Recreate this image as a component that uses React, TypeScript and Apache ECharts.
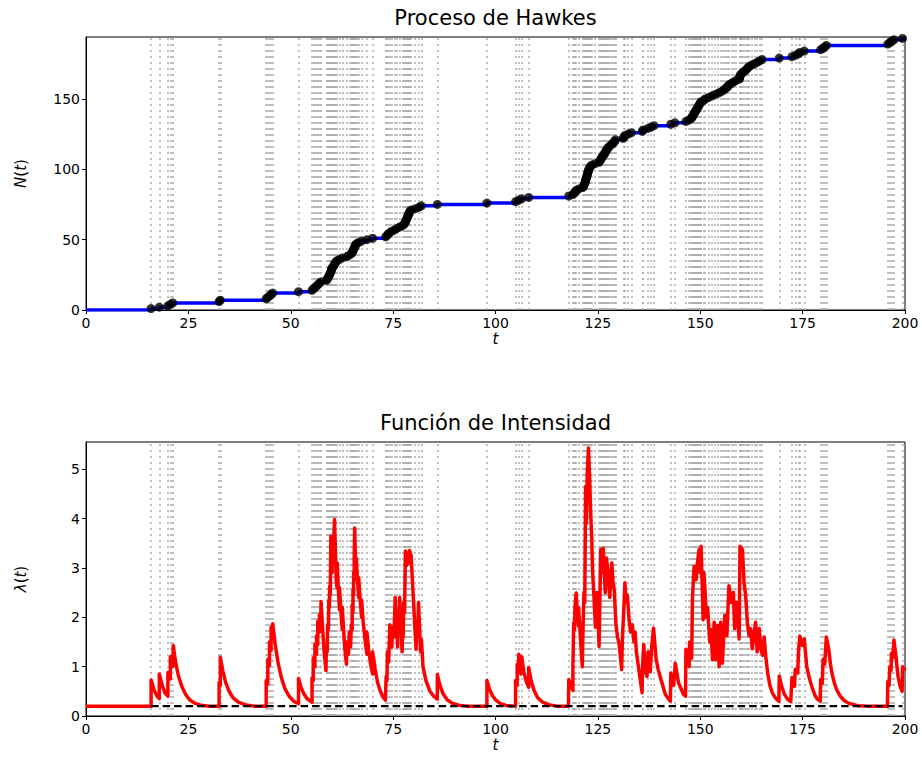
import React, { useEffect, useRef } from "react";
import * as echarts from "echarts";

const EVENT_TIMES: number[] = [
  15.9, 17.9, 20.0, 20.6, 21.2,
  32.5, 32.8,
  44.0, 44.4, 44.8, 45.2, 45.6,
  51.9,
  55.2, 55.5, 55.9, 56.3, 56.6, 57.0, 57.4,
  58.7, 58.9,
  59.1, 59.3, 59.45, 59.6, 59.75, 59.9, 60.0, 60.1,
  60.4, 60.6, 60.75, 61.0, 61.3,
  61.9, 62.6,
  63.7, 64.3, 64.8,
  65.0, 65.2, 65.35, 65.5, 65.65, 65.8, 66.0,
  66.6, 67.3,
  68.6, 70.0,
  73.2, 73.5, 73.8, 74.2,
  74.7, 75.4, 75.9,
  76.6, 77.3,
  77.7, 77.9, 78.05, 78.2, 78.35, 78.5, 78.65, 78.8, 78.95, 79.1, 79.35,
  80.4, 81.3, 81.9,
  85.8,
  97.9,
  104.9, 105.6, 106.4, 108.1,
  117.9, 118.9, 119.2, 119.45, 119.7,
  120.3, 121.3,
  121.5, 121.65, 121.8, 121.9, 122.0, 122.1, 122.2, 122.3, 122.4, 122.5, 122.6, 122.7, 122.8, 123.0,
  123.2, 123.5,
  124.3,
  125.3, 125.5, 125.7, 125.9, 126.1,
  126.4, 126.6, 126.8, 127.0, 127.2, 127.4,
  127.7, 128.1, 128.5, 128.9,
  129.1, 129.3,
  131.2, 131.4, 131.6,
  132.4, 133.2,
  135.85, 136.05, 137.2, 138.0, 138.7,
  142.8, 143.8,
  146.5, 147.2,
  147.8, 148.0, 148.2, 148.4, 148.6, 148.8, 149.0,
  149.2, 149.4, 149.6, 149.8, 150.0, 150.2,
  150.9, 151.2,
  152.0, 152.8, 153.5,
  154.3, 155.0,
  155.6, 156.0, 156.4, 156.8, 157.0,
  157.6, 158.1, 158.7,
  159.55, 159.62, 159.7, 159.78,
  160.1, 160.5,
  160.9, 161.3, 161.6, 161.9,
  162.5, 163.2, 163.9,
  164.5, 165.1,
  169.3,
  172.4, 173.2, 174.0, 174.3, 175.4,
  179.4, 180.0, 180.4, 180.8,
  195.8, 196.3, 196.7, 197.3,
  199.4,
];

// Intensity curve vertices [t, lambda]
const LAMBDA_POINTS: [number, number][] = [
  [0, 0.2], [15.9, 0.2], [15.9, 0.73], [16.6, 0.53], [17.3, 0.41], [17.9, 0.35], [17.9, 0.85],
  [18.6, 0.62], [19.3, 0.47], [20.0, 0.4], [20.0, 0.88], [20.6, 0.75], [20.6, 1.2], [21.2, 1.0],
  [21.3, 1.43], [21.9, 1.08], [22.6, 0.8], [23.4, 0.6], [24.3, 0.44], [25.3, 0.33], [26.5, 0.26],
  [28, 0.22], [30, 0.2], [32.5, 0.2], [32.5, 0.68], [32.8, 0.62], [32.8, 1.19], [33.4, 0.92],
  [34.1, 0.68], [35, 0.49], [36, 0.36], [37.2, 0.28], [38.8, 0.23], [41, 0.2], [44, 0.2],
  [44, 0.72], [44.4, 0.65], [44.4, 1.15], [44.8, 1.02], [44.8, 1.5], [45.2, 1.33], [45.2, 1.8],
  [45.6, 1.6], [45.6, 1.87], [46.2, 1.45], [46.9, 1.08], [47.7, 0.78], [48.6, 0.55], [49.6, 0.4],
  [50.7, 0.3], [51.9, 0.25], [51.9, 0.76], [52.5, 0.58], [53.2, 0.45], [54.0, 0.35], [55.0, 0.29],
  [55.2, 0.28], [55.2, 0.77], [55.5, 0.72], [55.5, 1.18], [55.9, 1.0], [55.9, 1.45], [56.3, 1.25],
  [56.3, 1.62], [56.6, 1.45], [56.6, 1.92], [57.0, 1.7], [57.0, 2.05], [57.3, 1.85], [57.4, 2.32],
  [57.8, 1.75], [58.2, 1.25], [58.6, 0.92], [58.7, 1.4], [58.9, 1.3], [59.0, 1.85], [59.2, 1.75],
  [59.3, 2.35], [59.45, 2.2], [59.5, 2.63], [59.65, 2.45], [59.8, 3.64], [59.95, 3.0], [60.1, 2.9],
  [60.1, 3.45], [60.4, 3.1], [60.5, 3.6], [60.7, 3.98], [60.9, 3.35], [61.1, 2.76], [61.3, 2.6],
  [61.35, 3.1], [61.6, 2.6], [61.9, 2.15], [61.9, 2.6], [62.3, 2.05], [62.6, 1.75], [62.6, 2.2],
  [63.0, 1.6], [63.3, 1.28], [63.6, 1.05], [63.7, 1.5], [64.1, 1.25], [64.3, 1.7], [64.6, 1.4],
  [64.8, 1.85], [65.0, 1.75], [65.0, 2.25], [65.2, 2.1], [65.2, 2.55], [65.35, 2.45], [65.35, 2.9],
  [65.5, 2.75], [65.5, 3.2], [65.6, 3.81], [65.8, 3.2], [66.0, 2.8], [66.0, 3.2], [66.3, 2.75],
  [66.6, 2.4], [66.6, 2.8], [67.0, 2.3], [67.3, 2.0], [67.3, 2.35], [67.7, 1.9], [68.2, 1.5],
  [68.6, 1.25], [68.6, 1.7], [69.0, 1.35], [69.5, 1.05], [70.0, 0.85], [70.0, 1.3], [70.6, 0.95],
  [71.2, 0.68], [71.8, 0.52], [72.4, 0.4], [73.1, 0.32],
  [73.2, 0.32], [73.3, 0.8], [73.5, 0.72], [73.6, 1.3], [73.9, 1.1], [74.2, 1.85], [74.7, 1.4],
  [74.8, 1.8], [75.2, 1.6], [75.5, 2.4], [76.1, 1.4], [76.2, 1.85], [76.4, 1.7], [76.6, 2.4],
  [77.2, 1.3], [77.3, 1.75], [77.45, 1.6], [77.6, 2.3], [77.8, 2.1], [78.0, 3.34], [78.3, 3.05],
  [78.5, 3.3], [78.8, 3.1], [79.0, 3.35], [79.4, 3.25], [79.7, 2.75], [80.0, 2.3], [80.3, 1.8],
  [80.6, 1.35], [80.8, 1.9], [81.0, 1.7], [81.2, 2.3], [81.7, 1.3], [81.9, 1.55], [82.3, 1.0],
  [83.0, 0.72], [84.0, 0.5], [84.9, 0.4], [85.8, 0.34], [85.8, 0.84], [86.4, 0.63], [87.2, 0.45],
  [88.2, 0.33], [89.4, 0.26], [91, 0.22], [93, 0.2],
  [97.9, 0.2], [97.9, 0.72], [98.5, 0.55], [99.2, 0.42], [100.1, 0.32], [101.2, 0.25], [102.8, 0.21],
  [104.9, 0.2], [104.9, 0.72], [105.3, 0.62], [105.3, 1.05], [105.6, 0.95], [105.7, 1.25],
  [106.0, 1.05], [106.2, 0.85], [106.4, 1.2], [106.9, 0.9], [107.5, 0.7], [108.1, 0.58],
  [108.1, 0.98], [108.7, 0.72], [109.4, 0.52], [110.3, 0.37], [111.5, 0.28], [113, 0.23],
  [115, 0.2], [117.8, 0.2],
  [117.9, 0.74], [118.5, 0.6], [118.9, 0.52], [118.9, 1.0], [119.1, 1.89], [119.3, 1.75],
  [119.4, 2.2], [119.7, 2.49], [120.0, 2.05], [120.3, 1.82], [120.3, 2.2], [120.8, 1.5],
  [121.2, 1.0], [121.3, 1.5], [121.6, 2.5], [121.8, 2.3], [122.0, 4.65], [122.2, 3.9],
  [122.4, 4.9], [122.7, 5.43], [123.0, 4.8], [123.2, 4.2], [123.5, 3.6], [123.7, 2.95],
  [124.0, 2.49], [124.4, 1.8], [124.6, 2.1], [124.8, 2.5], [125.3, 1.41], [125.5, 2.4],
  [125.7, 3.37], [126.0, 2.9], [126.3, 3.4], [126.8, 2.5], [127.1, 3.2], [127.6, 2.8],
  [127.9, 2.4], [128.1, 2.75], [128.4, 3.1], [128.7, 2.7], [129.0, 2.55], [129.4, 1.87],
  [129.8, 1.6], [130.2, 1.45], [130.8, 0.94], [131.0, 1.6], [131.3, 2.1], [131.6, 2.7],
  [131.9, 2.3], [132.2, 2.45], [132.6, 1.97], [133.0, 1.7], [133.4, 1.85], [133.8, 1.5],
  [134.1, 1.7], [134.4, 1.3], [135.0, 0.94], [135.8, 0.47], [135.9, 0.98], [136.2, 1.45],
  [136.6, 0.9], [137.0, 0.8], [137.3, 1.3], [137.8, 0.9], [138.0, 1.2], [138.2, 1.45],
  [138.6, 1.78], [139.2, 1.17], [139.7, 0.95], [140.3, 0.77], [141.5, 0.43], [142.7, 0.3],
  [142.8, 0.87], [143.5, 0.62], [143.9, 1.07], [144.7, 0.67], [145.9, 0.44], [146.4, 0.4],
  [146.5, 1.35], [146.9, 1.15], [147.3, 1.0], [147.4, 1.5], [147.9, 1.17], [148.1, 2.4],
  [148.5, 3.03], [149.0, 2.76], [149.3, 3.1], [149.7, 3.37], [150.0, 2.9], [150.2, 3.44],
  [150.5, 2.6], [150.7, 1.95], [150.9, 2.9], [151.2, 2.5], [151.5, 2.0], [151.8, 2.2],
  [152.3, 1.5], [152.6, 1.75], [153.0, 1.14], [153.4, 1.9], [153.8, 1.14], [154.2, 1.84],
  [154.6, 1.0], [155.0, 1.9], [155.4, 1.07], [156.0, 2.04], [156.5, 1.63], [157.0, 2.64],
  [157.6, 2.3], [158.1, 2.5], [158.4, 1.77], [158.9, 2.3], [159.5, 1.56], [159.7, 3.44],
  [160.3, 3.37], [160.7, 2.7], [161.1, 2.43], [161.5, 1.9], [161.9, 1.63], [162.3, 1.77],
  [162.7, 1.36], [163.1, 1.63], [163.5, 1.9], [163.9, 1.3], [164.4, 1.77], [164.8, 1.36],
  [165.2, 1.23], [165.6, 1.6], [166.0, 1.2], [166.5, 0.85], [167.0, 0.62], [167.6, 0.47],
  [168.3, 0.37], [169.2, 0.3], [169.3, 0.81], [169.8, 0.62], [170.5, 0.45], [171.3, 0.34],
  [172.1, 0.29], [172.4, 0.78], [173.0, 0.6], [173.2, 0.94], [173.8, 0.87], [174.0, 1.3],
  [174.3, 1.62], [174.9, 1.43], [175.4, 1.56], [176.0, 1.0], [176.6, 0.78], [177.3, 0.58],
  [178.0, 0.42], [178.5, 0.35], [179.3, 0.3], [179.4, 0.74], [179.8, 0.66], [180.0, 1.15],
  [180.4, 1.05], [180.8, 1.6], [181.4, 1.34], [181.8, 1.05], [182.2, 0.85], [182.8, 0.65],
  [183.4, 0.52], [184.2, 0.4], [185.2, 0.31], [186.5, 0.25], [188.5, 0.21], [191, 0.2],
  [195.7, 0.2], [195.8, 0.7], [196.1, 0.62], [196.3, 1.0], [196.6, 0.92], [196.7, 1.27],
  [197.0, 1.18], [197.3, 1.54], [197.8, 1.2], [198.3, 0.8], [198.8, 0.6], [199.3, 0.5],
  [199.4, 1.0], [200, 0.92],
];

const MU = 0.2;
const T_END = 200;
const N_MAX = 194;
const LAMBDA_MAX = 5.55;
const X_TICK_STEP = 25;
const N_TICKS = [0, 50, 100, 150];
const LAMBDA_TICKS = [0, 1, 2, 3, 4, 5];

const FONT = "DejaVu Sans";

export default function App() {
  const ref = useRef<HTMLDivElement>(null);

  useEffect(() => {
    const chart = echarts.init(ref.current!, null, { renderer: "svg" });

    const stepData = [[0, 0], ...EVENT_TIMES.map((t, i) => [t, i + 1]), [T_END, EVENT_TIMES.length]];
    const dots = EVENT_TIMES.map((t, i) => [t, i + 1]);
    const vlines = EVENT_TIMES.map((t) => ({ xAxis: t }));
    const baseline = [[EVENT_TIMES[0], MU], [EVENT_TIMES[EVENT_TIMES.length - 1], MU]];

    const vlineMark = {
      silent: true,
      z: 1,
      symbol: ["none", "none"],
      label: { show: false },
      emphasis: { disabled: true },
      lineStyle: { color: "#acacac", width: 1.5, type: [2, 4] },
      data: vlines,
      animation: false,
    };

    const xAxisBase = (gridIndex: number) => ({
      type: "value",
      gridIndex,
      min: 0,
      max: T_END,
      interval: X_TICK_STEP,
      name: "t",
      nameLocation: "middle",
      nameGap: 21,
      nameMoveOverlap: false,
      nameTextStyle: { fontFamily: FONT, fontSize: 15, fontStyle: "italic", color: "#000" },
      axisLine: { show: true, lineStyle: { color: "#000", width: 1 } },
      axisTick: { show: true, inside: false, length: 4, lineStyle: { color: "#000" } },
      axisLabel: { fontFamily: FONT, fontSize: 14, color: "#000", margin: 6 },
      splitLine: { show: false },
    });

    const nameRich = {
      i: { fontFamily: FONT, fontSize: 15, fontStyle: "italic", color: "#000" },
      n: { fontFamily: FONT, fontSize: 15, color: "#000" },
    };

    chart.setOption({
      animation: false,
      backgroundColor: "#fff",
      graphic: [
        {
          type: "text",
          x: 495.5,
          y: 18,
          style: { text: "Proceso de Hawkes", font: `21px "${FONT}"`, fill: "#000", textAlign: "center", textVerticalAlign: "middle" },
        },
        {
          type: "text",
          x: 495.5,
          y: 423,
          style: { text: "Función de Intensidad", font: `21px "${FONT}"`, fill: "#000", textAlign: "center", textVerticalAlign: "middle" },
        },
      ],
      grid: [
        { left: 86, top: 37, width: 819, height: 273, show: true, borderColor: "#000", borderWidth: 1, backgroundColor: "transparent" },
        { left: 86, top: 442, width: 819, height: 274, show: true, borderColor: "#000", borderWidth: 1, backgroundColor: "transparent" },
      ],
      xAxis: [xAxisBase(0), xAxisBase(1)],
      yAxis: [
        {
          type: "value",
          gridIndex: 0,
          min: 0,
          max: N_MAX,
          name: "{i|N}{n|(}{i|t}{n|)}",
          nameLocation: "middle",
          nameGap: 58,
          nameMoveOverlap: false,
          nameRotate: 90,
          nameTextStyle: { rich: nameRich },
          axisLine: { show: true, lineStyle: { color: "#000", width: 1 } },
          axisTick: { show: true, length: 4, lineStyle: { color: "#000" }, customValues: N_TICKS },
          axisLabel: { fontFamily: FONT, fontSize: 14, color: "#000", margin: 6, customValues: N_TICKS },
          splitLine: { show: false },
        },
        {
          type: "value",
          gridIndex: 1,
          min: 0,
          max: LAMBDA_MAX,
          name: "{i|λ}{n|(}{i|t}{n|)}",
          nameLocation: "middle",
          nameGap: 58,
          nameMoveOverlap: false,
          nameRotate: 90,
          nameTextStyle: { rich: nameRich },
          axisLine: { show: true, lineStyle: { color: "#000", width: 1 } },
          axisTick: { show: true, length: 4, lineStyle: { color: "#000" }, customValues: LAMBDA_TICKS },
          axisLabel: { fontFamily: FONT, fontSize: 14, color: "#000", margin: 6, customValues: LAMBDA_TICKS },
          splitLine: { show: false },
        },
      ],
      series: [
        {
          type: "line",
          xAxisIndex: 0,
          yAxisIndex: 0,
          data: [[0, 0]],
          symbol: "none",
          lineStyle: { width: 0 },
          silent: true,
          z: 1,
          markLine: vlineMark,
        },
        {
          type: "line",
          xAxisIndex: 1,
          yAxisIndex: 1,
          data: [[0, MU]],
          symbol: "none",
          lineStyle: { width: 0 },
          silent: true,
          z: 1,
          markLine: vlineMark,
        },
        {
          type: "line",
          xAxisIndex: 0,
          yAxisIndex: 0,
          data: stepData,
          step: "end",
          symbol: "none",
          lineStyle: { color: "#0000ff", width: 3.5 },
          z: 6,
        },
        {
          type: "scatter",
          xAxisIndex: 0,
          yAxisIndex: 0,
          data: dots,
          symbol: "circle",
          symbolSize: 9,
          itemStyle: { color: "#000" },
          z: 7,
        },
        {
          type: "line",
          xAxisIndex: 1,
          yAxisIndex: 1,
          data: LAMBDA_POINTS,
          symbol: "none",
          lineStyle: { color: "#ff0000", width: 3.5, join: "round" },
          z: 6,
        },
        {
          type: "line",
          xAxisIndex: 1,
          yAxisIndex: 1,
          data: baseline,
          symbol: "none",
          lineStyle: { color: "#000", width: 2.2, type: [7.5, 4] },
          z: 7,
        },
      ],
    });

    return () => chart.dispose();
  }, []);

  return (
    <div
      ref={ref}
      style={{ position: "fixed", left: 0, top: 0, width: 922, height: 772, background: "#fff" }}
    />
  );
}
